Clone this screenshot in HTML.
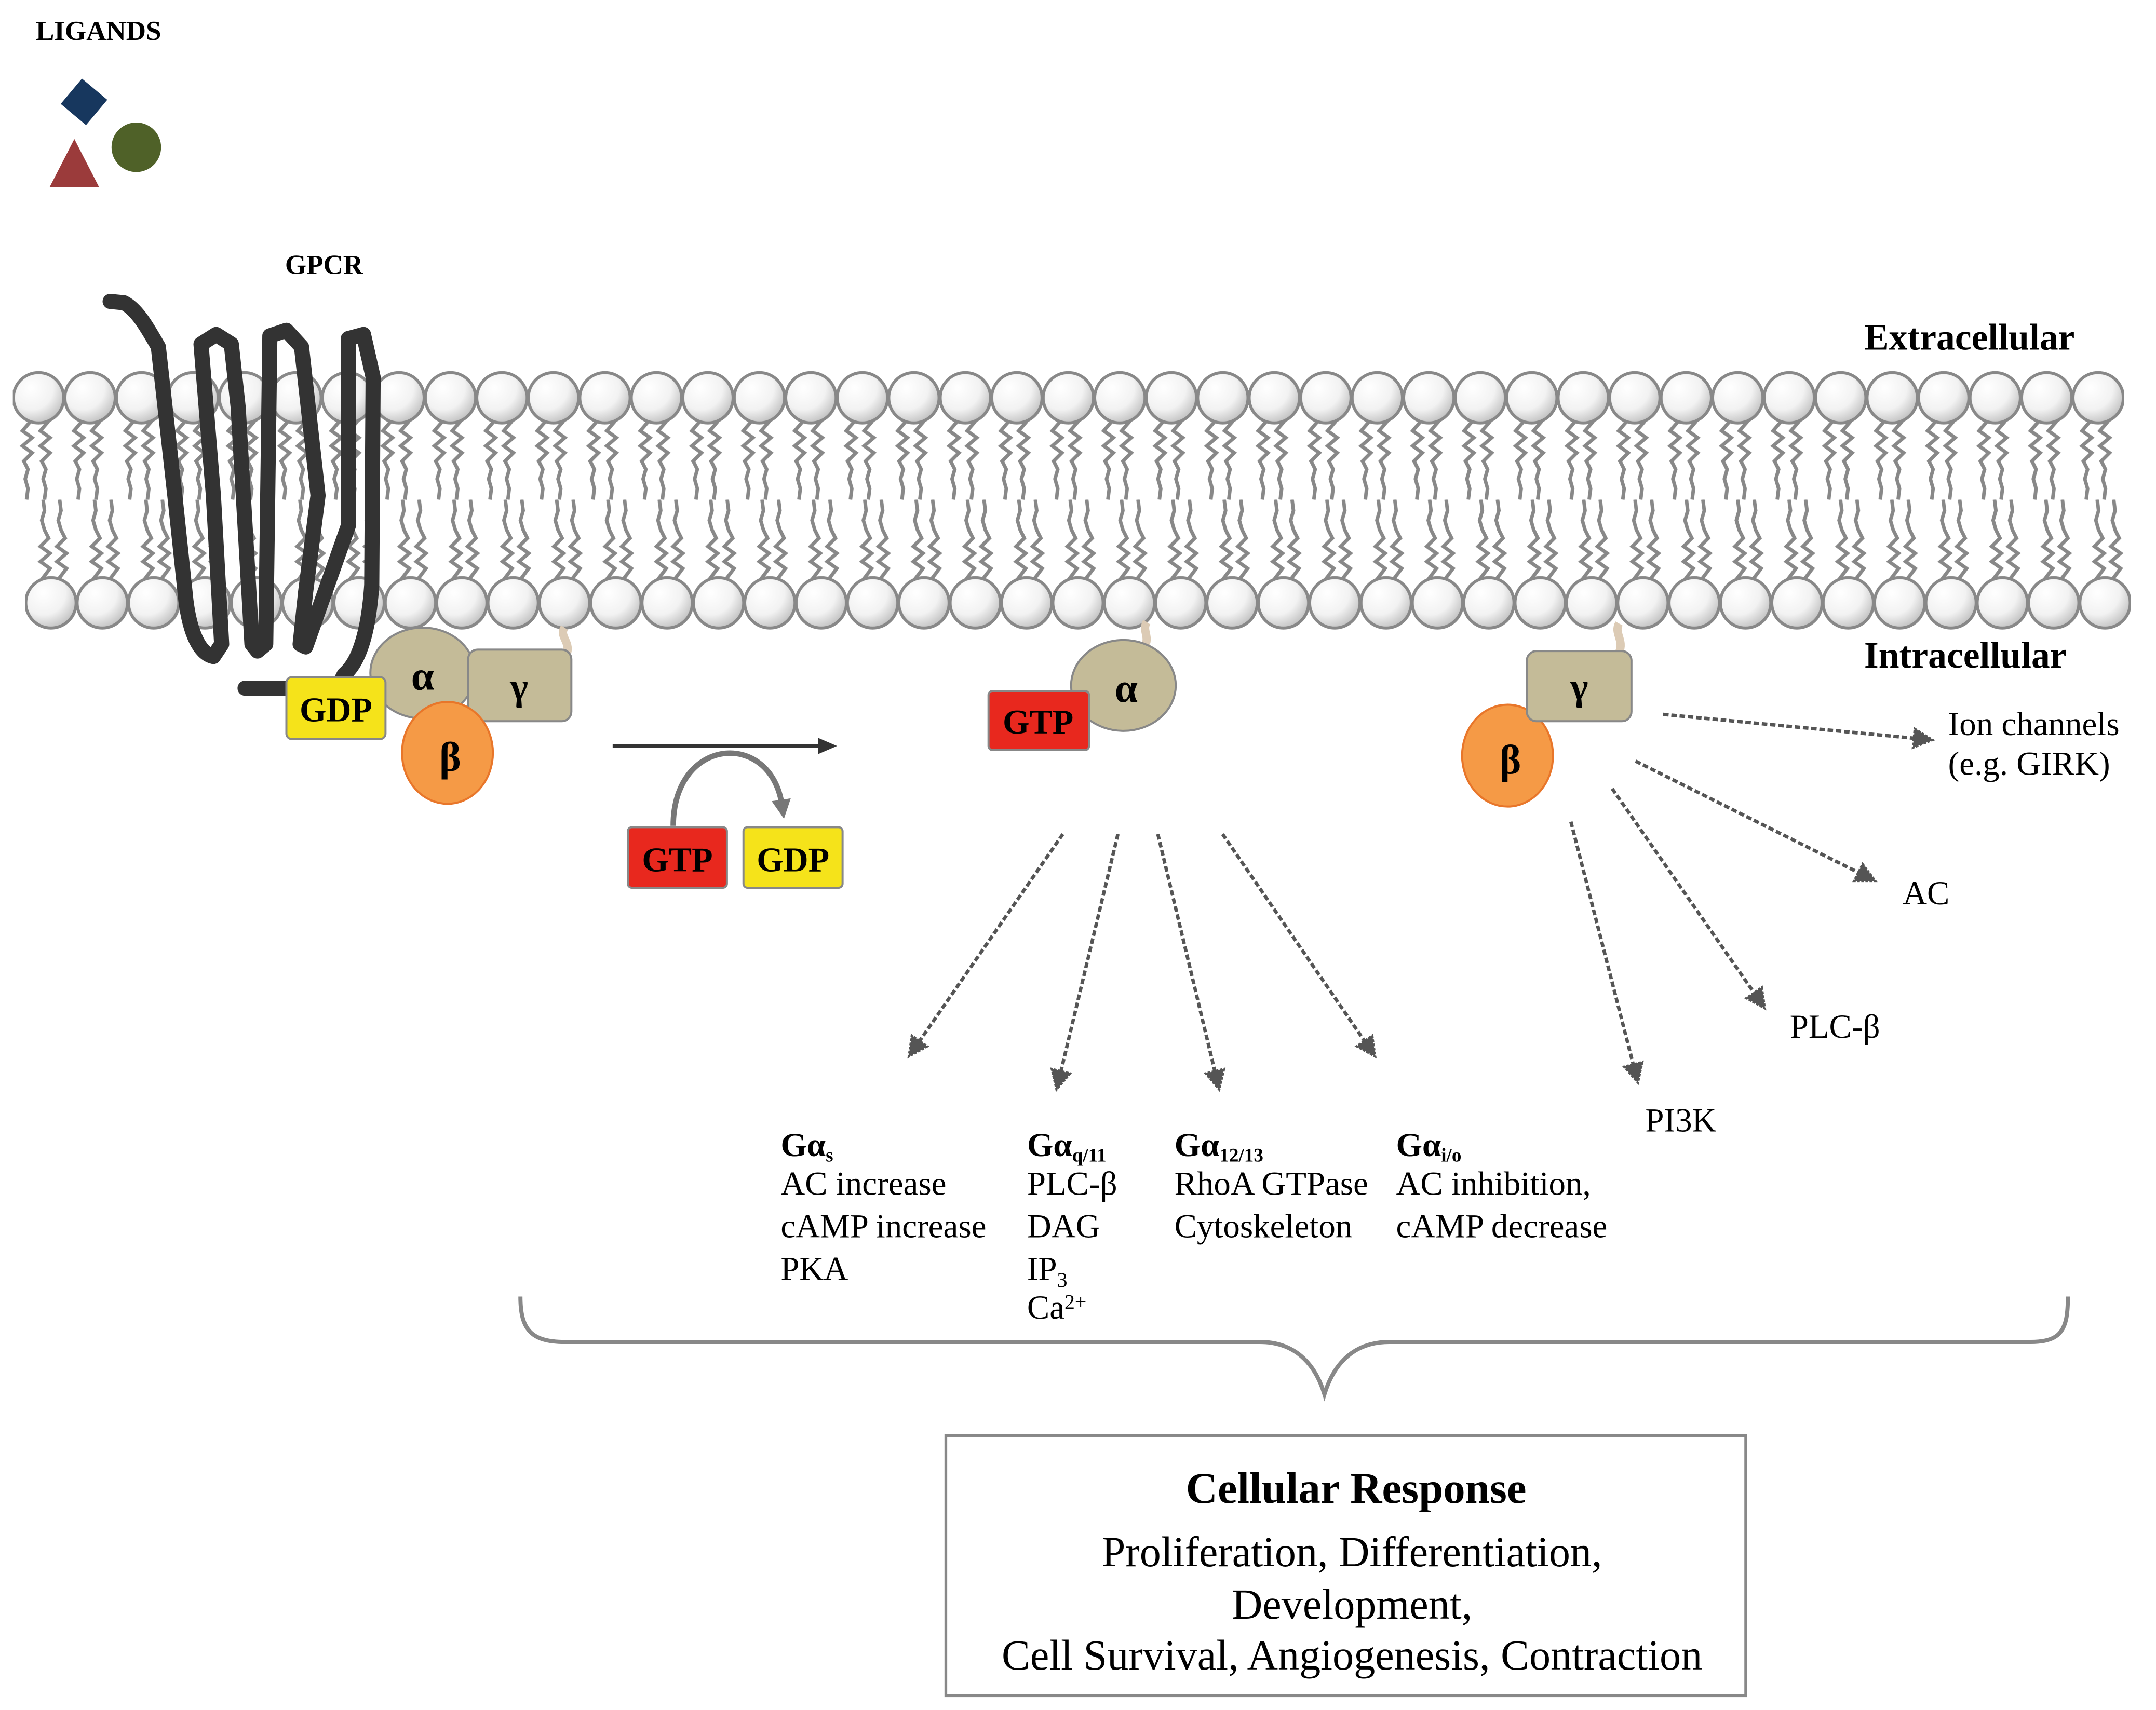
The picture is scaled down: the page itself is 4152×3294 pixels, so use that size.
<!DOCTYPE html>
<html><head><meta charset="utf-8"><style>html,body{margin:0;padding:0;background:#fff}svg{display:block}</style></head>
<body>
<svg width="4152" height="3294" viewBox="0 0 1566 1242.4" xmlns="http://www.w3.org/2000/svg" font-family="'Liberation Serif', serif">
<defs>
<radialGradient id="hg" cx="0.35" cy="0.3" r="0.8">
<stop offset="0" stop-color="#ffffff"/><stop offset="0.55" stop-color="#f2f2f2"/><stop offset="1" stop-color="#b8b8b8"/>
</radialGradient>
<pattern id="headsT" patternUnits="userSpaceOnUse" x="9.3" y="268" width="37.4" height="42">
<circle cx="18.7" cy="21" r="18.3" fill="url(#hg)" stroke="#888" stroke-width="2.2"/>
</pattern>
<pattern id="headsB" patternUnits="userSpaceOnUse" x="18.3" y="417" width="37.3" height="42">
<circle cx="18.7" cy="21" r="18.3" fill="url(#hg)" stroke="#888" stroke-width="2.2"/>
</pattern>
<pattern id="tailsT" patternUnits="userSpaceOnUse" x="9.3" y="306" width="37.4" height="58">
<path d="M13,0 l-6,7 l7,5 l-7,6 l7,5 l-6,6 l3,6 l-2,7 l2,7 l-1,8 M26,0 l-6,7 l7,5 l-7,6 l7,5 l-6,6 l3,6 l-2,7 l2,7 l-1,8" fill="none" stroke="#888" stroke-width="2.6"/>
</pattern>
<pattern id="tailsB" patternUnits="userSpaceOnUse" x="18.3" y="363" width="37.3" height="58">
<path d="M13,0 l1,8 l-2,7 l2,7 l3,6 l-6,6 l7,5 l-7,6 l7,5 l-6,8 M25,0 l1,8 l-2,7 l2,7 l3,6 l-6,6 l7,5 l-7,6 l7,5 l-6,8" fill="none" stroke="#888" stroke-width="2.6"/>
</pattern>
<marker id="ahb" markerWidth="14" markerHeight="12" refX="4" refY="6" orient="auto" markerUnits="userSpaceOnUse">
<path d="M0,0 L14,6 L0,12 z" fill="#333"/></marker>
<marker id="ahg" markerWidth="14" markerHeight="14" refX="4" refY="7" orient="auto" markerUnits="userSpaceOnUse">
<path d="M0,0 L14,7 L0,14 z" fill="#777"/></marker>
<marker id="ahd" markerWidth="18" markerHeight="18" refX="9" refY="9" orient="auto" markerUnits="userSpaceOnUse">
<path d="M2,2 L16,9 L2,16 z" fill="#555" stroke="#555" stroke-width="1.5" stroke-dasharray="2 1"/></marker>
</defs>

<text x="26" y="29" font-size="20" font-weight="bold">LIGANDS</text>
<rect x="49" y="62" width="24" height="24" fill="#17375e" transform="rotate(40 61 74)"/>
<polygon points="36,136 72,136 54,101" fill="#9b3b3b"/>
<circle cx="99" cy="107" r="18" fill="#4f6128"/>
<text x="207" y="199" font-size="20" font-weight="bold">GPCR</text>
<text x="1354" y="254" font-size="27" font-weight="bold">Extracellular</text>
<text x="1354" y="485" font-size="27" font-weight="bold">Intracellular</text>

<rect x="9.3" y="306" width="1533.4" height="58" fill="url(#tailsT)"/>
<rect x="18.3" y="363" width="1529" height="58" fill="url(#tailsB)"/>
<rect x="9.3" y="268" width="1533.4" height="42" fill="url(#headsT)"/>
<rect x="18.3" y="417" width="1529.3" height="42" fill="url(#headsB)"/>

<path d="M80,219 L90,220 C100,225 108,240 115,252 L127,360 L135,436 C138,460 145,475 155,477 L161,468 L155,360 L146,250 L157,243 L168,250 L173,296 L183,468 L187,473 L193,468 L196,244 L208,240 L219,252 L231,360 L222,430 L218,468 L222,470 L253,382 L253,246 L264,243 L271,274 L270,425 C268,455 262,480 250,490 L245,500 L178,500" fill="none" stroke="#333" stroke-width="11" stroke-linejoin="round" stroke-linecap="round"/>

<path d="M410,456 C406,462 414,466 412,474" stroke="#dccbb5" stroke-width="6" fill="none"/>
<ellipse cx="307" cy="489" rx="38" ry="33" fill="#c4bb98" stroke="#888" stroke-width="1.5"/>
<rect x="340" y="472" width="75" height="52" rx="7" fill="#c4bb98" stroke="#888" stroke-width="1.5"/>
<text x="377" y="508" font-size="28" font-weight="bold" text-anchor="middle">γ</text>
<text x="307" y="501" font-size="30" font-weight="bold" text-anchor="middle">α</text>
<ellipse cx="325" cy="547" rx="33" ry="37" fill="#f59a46" stroke="#e8762a" stroke-width="1.5"/>
<text x="327" y="560" font-size="30" font-weight="bold" text-anchor="middle">β</text>
<rect x="208" y="492" width="72" height="45" rx="4" fill="#f5e31a" stroke="#888" stroke-width="1.5"/>
<text x="244" y="524" font-size="25" font-weight="bold" text-anchor="middle">GDP</text>

<line x1="445" y1="542" x2="598" y2="542" stroke="#333" stroke-width="3" marker-end="url(#ahb)"/>
<path d="M489,600 C489,535 560,530 568,585" fill="none" stroke="#777" stroke-width="4" marker-end="url(#ahg)"/>
<rect x="456" y="601" width="72" height="44" rx="3" fill="#e8281e" stroke="#888" stroke-width="1.5"/>
<text x="492" y="633" font-size="25" font-weight="bold" text-anchor="middle">GTP</text>
<rect x="540" y="601" width="72" height="44" rx="3" fill="#f5e31a" stroke="#888" stroke-width="1.5"/>
<text x="576" y="633" font-size="25" font-weight="bold" text-anchor="middle">GDP</text>

<path d="M833,452 C829,458 836,463 831,470" stroke="#dccbb5" stroke-width="6" fill="none"/>
<ellipse cx="816" cy="498" rx="38" ry="33" fill="#c4bb98" stroke="#888" stroke-width="1.5"/>
<text x="818" y="510" font-size="30" font-weight="bold" text-anchor="middle">α</text>
<rect x="718" y="502" width="73" height="43" rx="3" fill="#e8281e" stroke="#888" stroke-width="1.5"/>
<text x="754" y="533" font-size="25" font-weight="bold" text-anchor="middle">GTP</text>

<path d="M1176,453 C1172,460 1180,465 1176,474" stroke="#dccbb5" stroke-width="6" fill="none"/>
<ellipse cx="1095" cy="549" rx="33" ry="37" fill="#f59a46" stroke="#e8762a" stroke-width="1.5"/>
<rect x="1109" y="473" width="76" height="51" rx="7" fill="#c4bb98" stroke="#888" stroke-width="1.5"/>
<text x="1147" y="508" font-size="28" font-weight="bold" text-anchor="middle">γ</text>
<text x="1097" y="562" font-size="30" font-weight="bold" text-anchor="middle">β</text>

<g stroke="#555" stroke-width="2.5" stroke-dasharray="4 2" fill="none" marker-end="url(#ahd)">
<line x1="772" y1="606" x2="664" y2="762"/>
<line x1="812" y1="606" x2="769" y2="785"/>
<line x1="841" y1="606" x2="884" y2="785"/>
<line x1="888" y1="606" x2="995" y2="762"/>
<line x1="1208" y1="519" x2="1397" y2="537"/>
<line x1="1188" y1="553" x2="1356" y2="637"/>
<line x1="1171" y1="573" x2="1278" y2="727"/>
<line x1="1141" y1="597" x2="1188" y2="780"/>
</g>
<g font-size="24.5">
<text x="1415" y="534">Ion channels</text>
<text x="1415" y="563">(e.g. GIRK)</text>
<text x="1382" y="657">AC</text>
<text x="1300" y="754">PLC-β</text>
<text x="1195" y="822">PI3K</text>

<text x="567" y="840" font-weight="bold">Gα<tspan font-size="14" dy="4">s</tspan></text>
<text x="567" y="868">AC increase</text>
<text x="567" y="899">cAMP increase</text>
<text x="567" y="930">PKA</text>

<text x="746" y="840" font-weight="bold">Gα<tspan font-size="14" dy="4">q/11</tspan></text>
<text x="746" y="868">PLC-β</text>
<text x="746" y="899">DAG</text>
<text x="746" y="930">IP<tspan font-size="15" dy="5">3</tspan></text>
<text x="746" y="958">Ca<tspan font-size="15" dy="-7">2+</tspan></text>

<text x="853" y="840" font-weight="bold">Gα<tspan font-size="14" dy="4">12/13</tspan></text>
<text x="853" y="868">RhoA GTPase</text>
<text x="853" y="899">Cytoskeleton</text>

<text x="1014" y="840" font-weight="bold">Gα<tspan font-size="14" dy="4">i/o</tspan></text>
<text x="1014" y="868">AC inhibition,</text>
<text x="1014" y="899">cAMP decrease</text>
</g>

<path d="M378,942 C378,965 385,975 410,975 L915,975 C940,975 955,990 962,1013 C969,990 984,975 1009,975 L1475,975 C1498,975 1502,965 1502,942" fill="none" stroke="#888" stroke-width="3"/>

<rect x="687" y="1043" width="581" height="189" fill="#fff" stroke="#888" stroke-width="2"/>
<text x="985" y="1092" font-size="32" font-weight="bold" text-anchor="middle">Cellular Response</text>
<g font-size="31" text-anchor="middle">
<text x="982" y="1138">Proliferation, Differentiation,</text>
<text x="982" y="1176">Development,</text>
<text x="982" y="1213">Cell Survival, Angiogenesis, Contraction</text>
</g>
</svg>
</body></html>
